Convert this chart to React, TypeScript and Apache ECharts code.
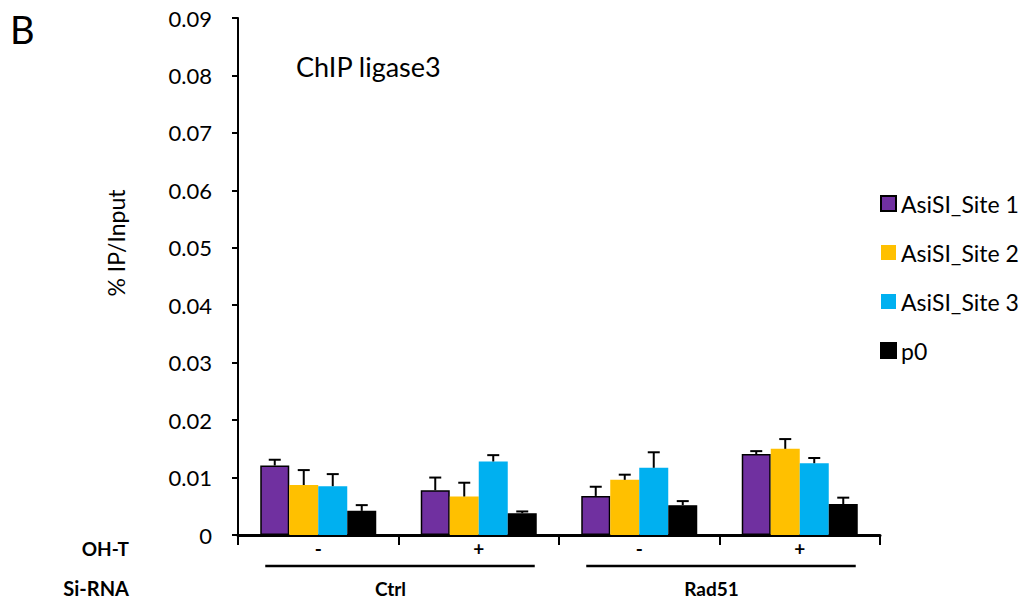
import React, { useEffect, useRef } from "react";
import * as echarts from "echarts";

const categories = ["Ctrl|-", "Ctrl|+", "Rad51|-", "Rad51|+"];
const ohtLabels = ["-", "+", "-", "+"];
const siRnaGroups = ["Ctrl", "Rad51"];
const seriesNames = ["AsiSI_Site 1", "AsiSI_Site 2", "AsiSI_Site 3", "p0"];
const seriesColors = ["#7030A0", "#FFC000", "#00B0F0", "#000000"];

const site1 = [0.0121, 0.0078, 0.0068, 0.0141];
const site1Err = [0.001, 0.0022, 0.0016, 0.0005];
const site2 = [0.0087, 0.0067, 0.0096, 0.015];
const site2Err = [0.0026, 0.0024, 0.0009, 0.0017];
const site3 = [0.0085, 0.0128, 0.0117, 0.0125];
const site3Err = [0.0021, 0.0011, 0.0027, 0.0009];
const p0 = [0.0042, 0.0038, 0.0052, 0.0054];
const p0Err = [0.001, 0.0003, 0.0007, 0.0011];

const yTicks = { min: 0, max: 0.09, interval: 0.01 };

const values = [site1, site2, site3, p0];
const errors = [site1Err, site2Err, site3Err, p0Err];

const FONT = "Lato";
const BAR_W = 29;
const GRID = { left: 238, top: 18, right: 140, bottom: 64 };

export default function App() {
  const ref = useRef<HTMLDivElement>(null);
  useEffect(() => {
    if (!ref.current) return;
    const chart = echarts.init(ref.current, null, { renderer: "svg" });

    const barSeries = seriesNames.map((name, i) => ({
      name,
      type: "bar",
      data: values[i],
      barWidth: BAR_W,
      barGap: "0%",
      itemStyle: {
        color: seriesColors[i],
        borderColor: i === 0 || i === 3 ? "#000" : seriesColors[i],
        borderWidth: i === 0 || i === 3 ? 1.5 : 0,
      },
      z: 2,
    }));

    const errData: number[][] = [];
    values.forEach((arr, si) =>
      arr.forEach((v, ci) => errData.push([ci, v, errors[si][ci], si]))
    );

    const errSeries = {
      type: "custom",
      name: "err",
      data: errData,
      encode: { x: 0, y: 1 },
      z: 5,
      renderItem: (params: any, api: any) => {
        const ci = api.value(0);
        const v = api.value(1);
        const e = api.value(2);
        const si = api.value(3);
        const base = api.coord([ci, v]);
        const top = api.coord([ci, v + e]);
        const x = base[0] + (si - 1.5) * BAR_W;
        return {
          type: "group",
          children: [
            {
              type: "line",
              shape: { x1: x, y1: base[1], x2: x, y2: top[1] },
              style: { stroke: "#000", lineWidth: 2 },
            },
            {
              type: "line",
              shape: { x1: x - 6, y1: top[1], x2: x + 6, y2: top[1] },
              style: { stroke: "#000", lineWidth: 2 },
            },
          ],
        };
      },
    };

    chart.setOption({
      animation: false,
      textStyle: { fontFamily: FONT },
      grid: { ...GRID, containLabel: false },
      legend: {
        data: seriesNames,
        orient: "vertical",
        left: 875,
        top: 187,
        itemWidth: 15,
        itemHeight: 15,
        itemGap: 26,
        icon: "rect",
        textStyle: { fontSize: 23, color: "#000", fontFamily: FONT },
        selectedMode: false,
      },
      xAxis: {
        type: "category",
        data: categories,
        axisLine: { lineStyle: { color: "#000", width: 3 } },
        axisTick: { show: true, length: 10, lineStyle: { color: "#000", width: 2 } },
        axisLabel: {
          formatter: (_v: string, idx: number) => ohtLabels[idx],
          fontSize: 19,
          fontWeight: "bold",
          color: "#000",
          margin: 4,
          fontFamily: FONT,
        },
      },
      yAxis: {
        type: "value",
        min: yTicks.min,
        max: yTicks.max,
        interval: yTicks.interval,
        axisLine: { show: true, lineStyle: { color: "#000", width: 2 } },
        axisTick: { show: true, length: 6, lineStyle: { color: "#000", width: 2 } },
        splitLine: { show: false },
        axisLabel: {
          formatter: (v: number) => (v === 0 ? "0" : v.toFixed(2)),
          fontSize: 22,
          color: "#000",
          margin: 26,
          fontFamily: FONT,
        },
      },
      series: [...barSeries, errSeries],
    });

    const px = (i: number) =>
      chart.convertToPixel({ xAxisIndex: 0 }, categories[i]) as unknown as number;
    const half = 160 / 2;
    const groupGraphics: any[] = [];
    siRnaGroups.forEach((g, gi) => {
      const x0 = px(gi * 2) - half;
      const x1 = px(gi * 2 + 1) + half;
      groupGraphics.push({
        type: "line",
        shape: { x1: x0 + 27, y1: 566, x2: x1 - 24, y2: 566 },
        style: { stroke: "#000", lineWidth: 2.5 },
      });
      groupGraphics.push({
        type: "text",
        x: (x0 + x1) / 2 - 8,
        y: 588,
        style: {
          text: g,
          fontSize: 19,
          fontWeight: "bold",
          fill: "#000",
          fontFamily: FONT,
          align: "center",
          verticalAlign: "middle",
        },
      });
    });

    chart.setOption({
      graphic: [
        {
          type: "text",
          x: 10,
          y: 29,
          style: { text: "B", fontSize: 38, fill: "#000", fontFamily: FONT, verticalAlign: "middle" },
        },
        {
          type: "text",
          x: 296,
          y: 66,
          style: { text: "ChIP ligase3", fontSize: 27, fill: "#000", fontFamily: FONT, verticalAlign: "middle" },
        },
        {
          type: "text",
          x: 116,
          y: 243,
          rotation: Math.PI / 2,
          style: {
            text: "% IP/Input",
            fontSize: 23,
            fill: "#000",
            fontFamily: FONT,
            align: "center",
            verticalAlign: "middle",
          },
        },
        {
          type: "text",
          x: 129,
          y: 548,
          style: {
            text: "OH-T",
            fontSize: 19,
            fontWeight: "bold",
            fill: "#000",
            fontFamily: FONT,
            align: "right",
            verticalAlign: "middle",
          },
        },
        {
          type: "text",
          x: 129,
          y: 588,
          style: {
            text: "Si-RNA",
            fontSize: 20,
            fontWeight: "bold",
            fill: "#000",
            fontFamily: FONT,
            align: "right",
            verticalAlign: "middle",
          },
        },
        ...groupGraphics,
      ],
    });

    return () => chart.dispose();
  }, []);

  return (
    <div
      ref={ref}
      style={{ position: "fixed", left: 0, top: 0, width: 1020, height: 599, background: "#fff" }}
    />
  );
}
